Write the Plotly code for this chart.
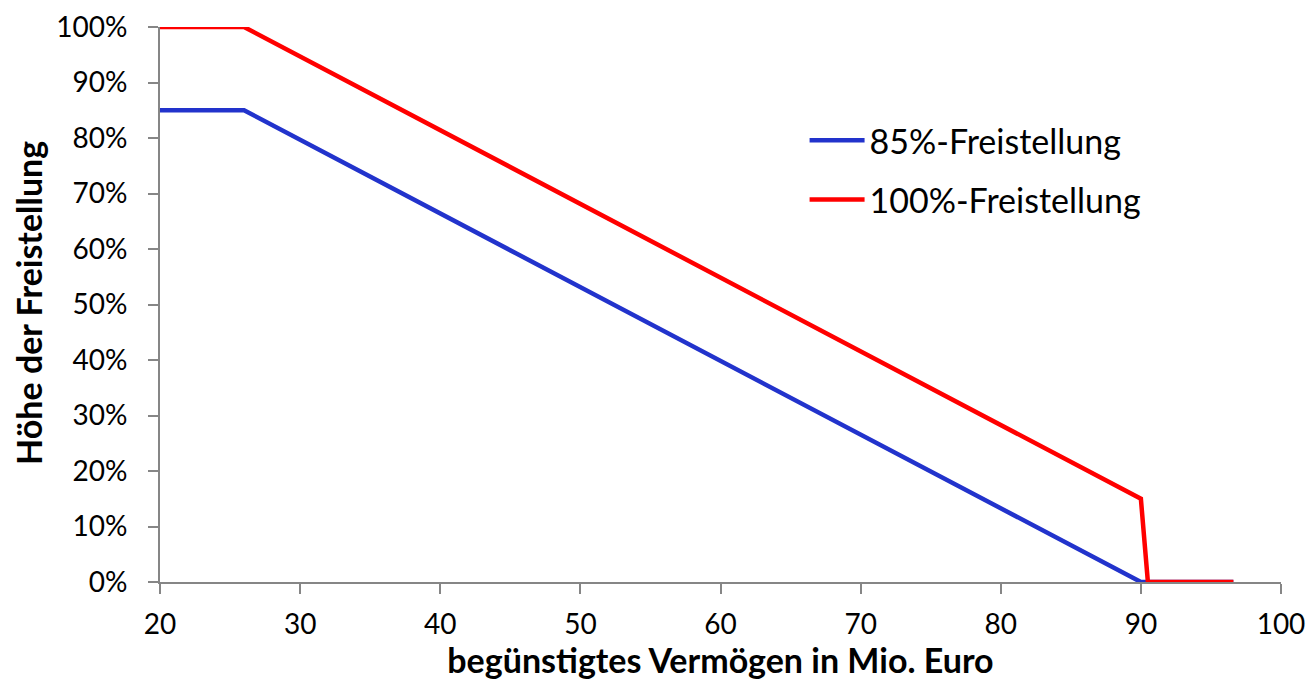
import plotly.graph_objects as go

# Begünstigtes Vermögen (Mio. Euro) und Höhe der Freistellung (%)
x_85 = [20, 26, 90, 96.6]
y_85 = [85, 85, 0, 0]

x_100 = [20, 26, 90, 90.5, 96.6]
y_100 = [100, 100, 15, 0, 0]

x_ticks = [20, 30, 40, 50, 60, 70, 80, 90, 100]
y_ticks = [0, 10, 20, 30, 40, 50, 60, 70, 80, 90, 100]

FONT = "Lato, 'Open Sans', sans-serif"
AXIS_GREY = "#868686"

fig = go.Figure()
fig.add_trace(go.Scatter(
    x=x_85, y=y_85, mode="lines", name="85%-Freistellung",
    line=dict(color="#2233cc", width=4.5), cliponaxis=False,
    legendgroup="a",
))
fig.add_trace(go.Scatter(
    x=x_100, y=y_100, mode="lines", name="100%-Freistellung",
    line=dict(color="#ff0000", width=4.5), cliponaxis=False,
    legendgroup="b",
))

# vertical y-axis title, placed as a rotated annotation left of the tick labels
fig.add_annotation(
    text="<b>Höhe der Freistellung</b>", textangle=-90,
    xref="paper", yref="paper", x=-0.1173, y=0.502,
    xanchor="center", yanchor="middle", showarrow=False,
    font=dict(family=FONT, size=34, color="black"),
)

fig.update_layout(
    width=1310, height=680,
    margin=dict(l=160, r=29, t=27, b=98),
    paper_bgcolor="white", plot_bgcolor="white",
    font=dict(family=FONT, size=28, color="black"),
    showlegend=True,
    legend=dict(
        x=0.575, y=0.742, xanchor="left", yanchor="middle",
        bgcolor="rgba(0,0,0,0)", itemwidth=55,
        traceorder="grouped", tracegroupgap=12,
        font=dict(family=FONT, size=34),
    ),
    xaxis=dict(
        range=[20, 100], tickvals=x_ticks, ticktext=[str(v) for v in x_ticks],
        showgrid=False, zeroline=False, automargin=False,
        showline=True, linecolor=AXIS_GREY, linewidth=2,
        ticks="outside", ticklen=10, tickcolor=AXIS_GREY, tickwidth=2,
        ticklabelstandoff=6,
        tickfont=dict(family=FONT, size=28),
        title=dict(text="<b>begünstigtes Vermögen in Mio. Euro</b>",
                   font=dict(family=FONT, size=34), standoff=12),
    ),
    yaxis=dict(
        range=[0, 100], tickvals=y_ticks, ticktext=[f"{v}%" for v in y_ticks],
        showgrid=False, zeroline=False, automargin=False,
        showline=True, linecolor=AXIS_GREY, linewidth=2,
        ticks="outside", ticklen=10, tickcolor=AXIS_GREY, tickwidth=2,
        ticklabelstandoff=15,
        tickfont=dict(family=FONT, size=28),
    ),
)

fig.write_html("out.html")
